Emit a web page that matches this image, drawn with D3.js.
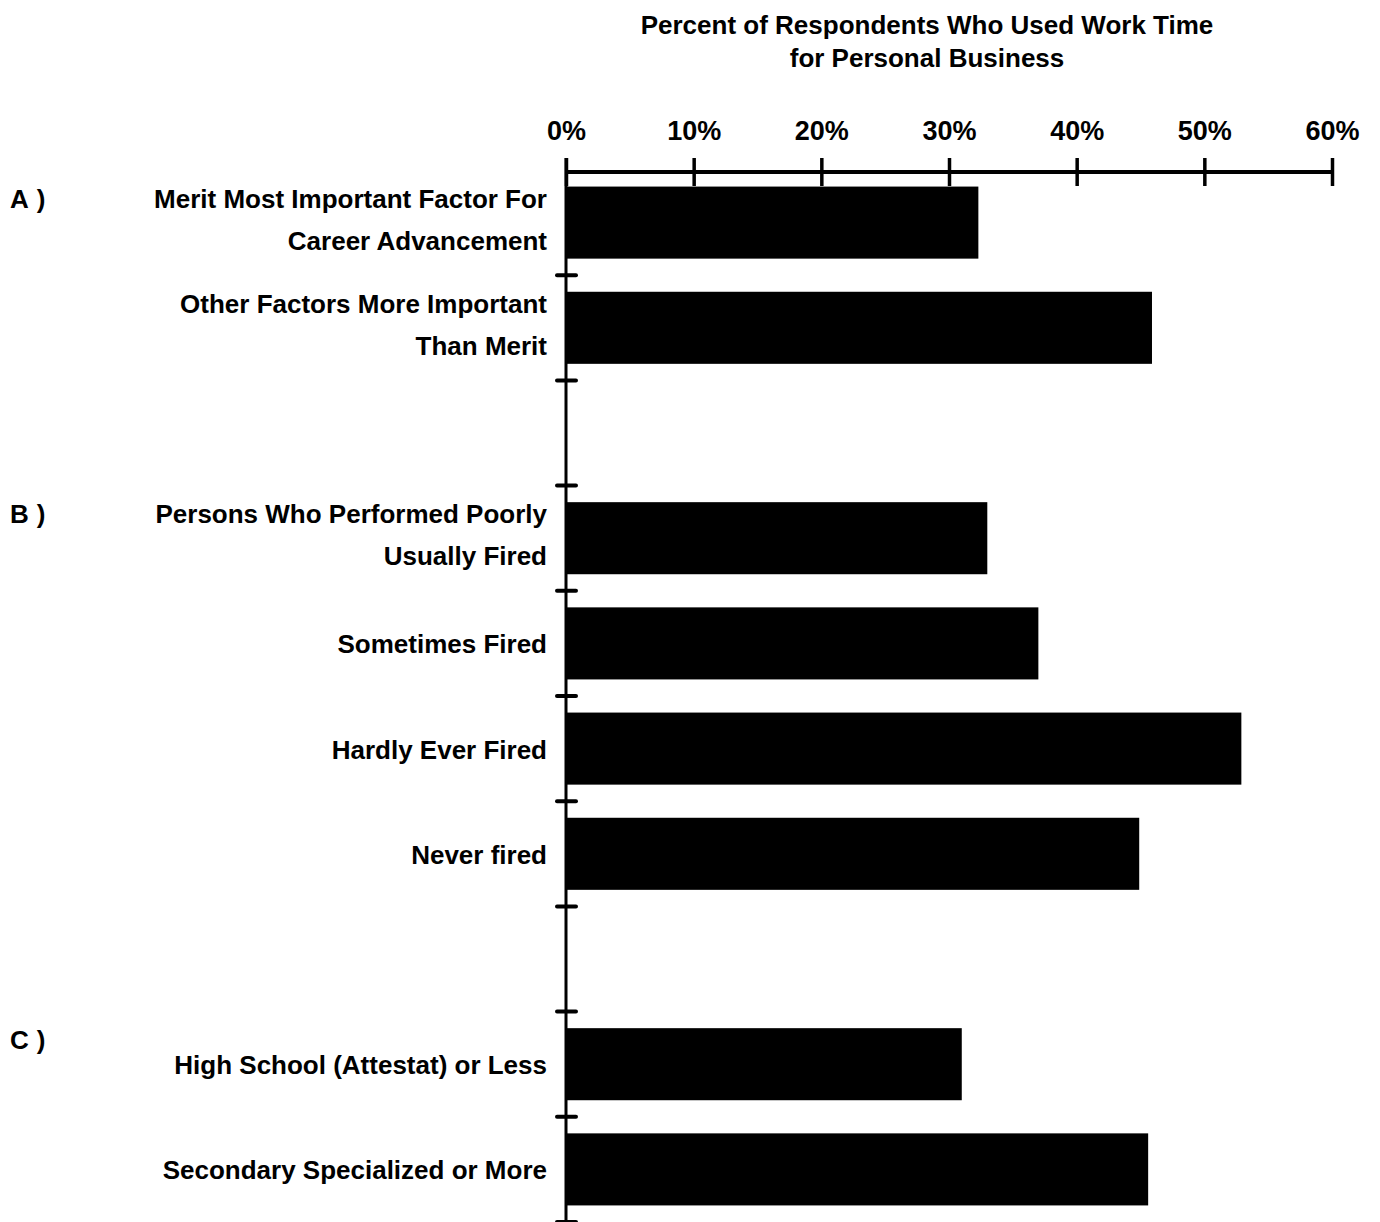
<!DOCTYPE html>
<html>
<head>
<meta charset="utf-8">
<script src="https://cdn.jsdelivr.net/npm/d3@7"></script>
<style>
  html, body { margin: 0; padding: 0; background: #fff; }
  svg { display: block; }
  text { font-family: "Liberation Sans", Arial, Helvetica, sans-serif; font-weight: bold; fill: #000; }
</style>
</head>
<body>
<svg id="chart" width="1380" height="1222"></svg>
<script>
// ---- data ----
const titleLines = ["Percent of Respondents Who Used Work Time", "for Personal Business"];
const slots = ["A1", "A2", "gapA", "B1", "B2", "B3", "B4", "gapB", "C1", "C2"];
const barKeys = ["A1", "A2", "B1", "B2", "B3", "B4", "C1", "C2"];
const barLabels = [
  ["Merit Most Important Factor For", "Career Advancement"],
  ["Other Factors More Important", "Than Merit"],
  ["Persons Who Performed Poorly", "Usually Fired"],
  ["Sometimes Fired"],
  ["Hardly Ever Fired"],
  ["Never fired"],
  ["High School (Attestat) or Less"],
  ["Secondary Specialized or More"]
];
const barValues = [32.3, 45.9, 33.0, 37.0, 52.9, 44.9, 31.0, 45.6];
const groupKeys = ["A1", "B1", "C1"];
const groupLabels = ["A)", "B)", "C)"];
const tickValues = [0, 10, 20, 30, 40, 50, 60];

// ---- scales ----
const svg = d3.select("#chart");
const x = d3.scaleLinear().domain([0, 60]).range([566, 1332]);
const y = d3.scaleBand().domain(slots).range([170, 1222]).paddingInner(0.315).paddingOuter(0.1575);

// title
svg.append("g").selectAll("text").data(titleLines).join("text")
  .attr("x", 927).attr("y", (d, i) => 34 + i * 33)
  .attr("text-anchor", "middle").attr("font-size", 26)
  .text(d => d);

// bars
const bars = barKeys.map((k, i) => ({ key: k, value: barValues[i], label: barLabels[i] }));
svg.append("g").selectAll("rect").data(bars).join("rect")
  .attr("x", x(0))
  .attr("y", d => y(d.key))
  .attr("width", d => x(d.value) - x(0))
  .attr("height", y.bandwidth())
  .attr("fill", "#000");

// x axis (top)
const xAxis = d3.axisTop(x).tickValues(tickValues).tickSize(0).tickFormat(d => d + "%");
const gx = svg.append("g").attr("transform", "translate(0,172)").call(xAxis);
gx.select(".domain").attr("stroke", "#000").attr("stroke-width", 4).attr("d", `M${x(0)},0H${x(60)}`);
gx.selectAll(".tick line").remove();
gx.selectAll(".tick").append("line")
  .attr("y1", -14).attr("y2", 14).attr("stroke", "#000").attr("stroke-width", 3.5);
gx.selectAll(".tick text")
  .attr("y", -32).attr("dy", 0)
  .attr("font-size", 27).attr("font-family", null)
  .style("font-family", "'Liberation Sans', Arial, sans-serif").style("font-weight", "bold");

// y axis line
svg.append("line")
  .attr("x1", x(0)).attr("x2", x(0))
  .attr("y1", 158).attr("y2", 1222)
  .attr("stroke", "#000").attr("stroke-width", 3);

// boundary ticks on y axis
const bounds = d3.range(1, slots.length + 1).map(i => y.range()[0] + i * y.step());
svg.append("g").selectAll("line").data(bounds).join("line")
  .attr("x1", x(0) - 9).attr("x2", x(0) + 10)
  .attr("y1", d => d).attr("y2", d => d)
  .attr("stroke", "#000").attr("stroke-width", 4).attr("stroke-linecap", "round");

// category labels
const lab = svg.append("g").selectAll("text").data(bars).join("text")
  .attr("text-anchor", "end")
  .attr("font-size", 26)
  .attr("x", 547)
  .attr("y", d => y(d.key) + y.bandwidth() / 2 + 10 - (d.label.length - 1) * 25);
lab.selectAll("tspan").data(d => d.label).join("tspan")
  .attr("x", 547)
  .attr("dy", (d, i) => i === 0 ? 0 : 42)
  .text(d => d);

// group labels
svg.append("g").selectAll("text").data(groupKeys).join("text")
  .attr("x", 10)
  .attr("y", d => y(d) + 21)
  .attr("font-size", 26)
  .attr("letter-spacing", 8)
  .text((d, i) => groupLabels[i]);
</script>
</body>
</html>
